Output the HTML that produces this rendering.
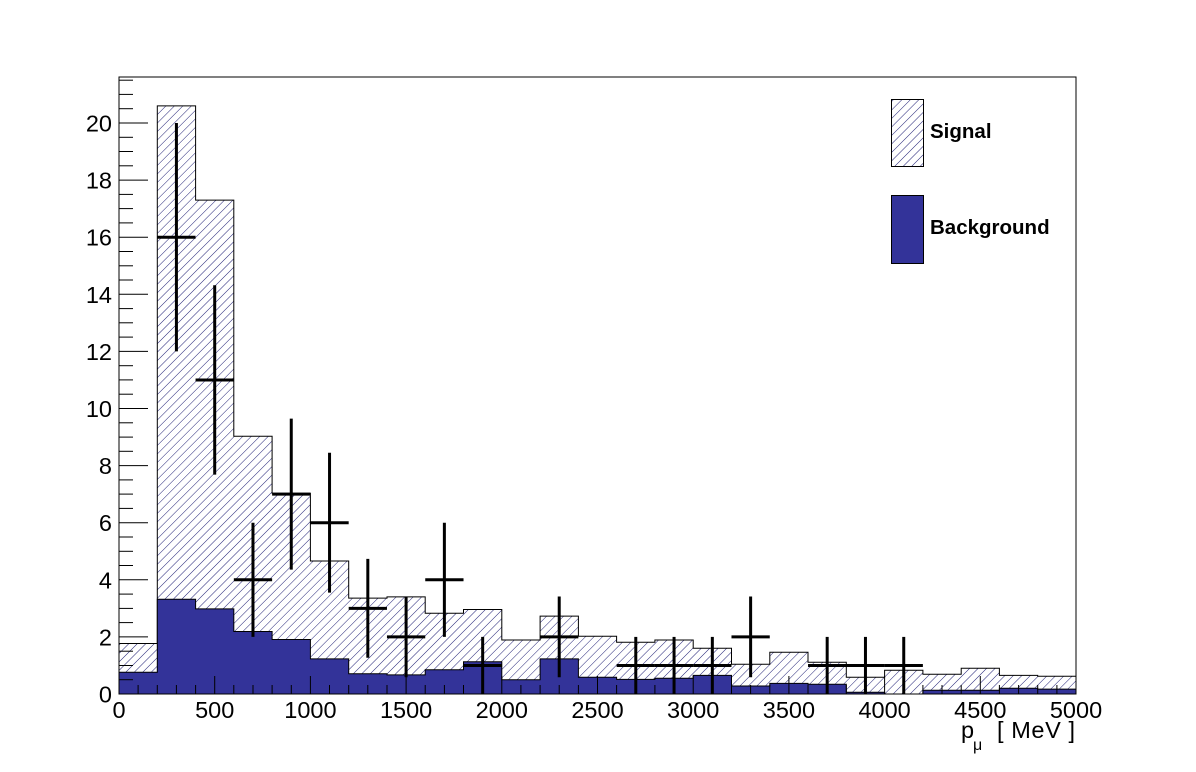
<!DOCTYPE html>
<html><head><meta charset="utf-8">
<style>html,body{margin:0;padding:0;background:#fff;}svg{display:block;}</style>
</head><body>
<svg id="s" width="1196" height="772" xmlns="http://www.w3.org/2000/svg" font-family="Liberation Sans, sans-serif">
<defs>
<pattern id="h" patternUnits="userSpaceOnUse" width="6" height="6" patternTransform="rotate(45)">
<rect width="6" height="6" fill="#fff"/>
<line x1="0" y1="0" x2="0" y2="6" stroke="#222277" stroke-width="1"/>
</pattern>
</defs>
<rect width="1196" height="772" fill="#fff"/>
<g id="g"></g>
</svg>
<script>
var X0=119,X1=1076,Y0=694,PU=28.55,BW=(X1-X0)/25;
function y(v){return Y0-v*PU;}
function x(m){return X0+m*(X1-X0)/5000;}
var sig=[1.77,20.6,17.3,9.03,7.03,4.66,3.36,3.4,2.83,2.96,1.89,2.73,2.02,1.81,1.89,1.6,1.04,1.46,1.11,0.59,0.83,0.69,0.9,0.65,0.62];
var bkg=[0.76,3.32,2.98,2.19,1.91,1.23,0.71,0.67,0.85,1.13,0.5,1.23,0.59,0.51,0.55,0.65,0.28,0.37,0.34,0.06,0,0.13,0.13,0.2,0.17];
var s='';
function step(arr){var d='M'+X0+','+Y0;for(var i=0;i<25;i++){d+=' L'+(X0+i*BW).toFixed(1)+','+y(arr[i]).toFixed(1)+' L'+(X0+(i+1)*BW).toFixed(1)+','+y(arr[i]).toFixed(1);}d+=' L'+X1+','+Y0+' Z';return d;}
s+='<path d="'+step(sig)+'" fill="url(#h)" stroke="#000" stroke-width="1"/>';
s+='<path d="'+step(bkg)+'" fill="#333399" stroke="#000" stroke-width="1"/>';
s+='<rect x="'+X0+'" y="77" width="'+(X1-X0)+'" height="'+(Y0-77)+'" fill="none" stroke="#000" stroke-width="1"/>';
for(var m=0;m<=5000;m+=100){var xx=x(m).toFixed(1);var L=(m%500==0)?18:9;s+='<line x1="'+xx+'" y1="'+Y0+'" x2="'+xx+'" y2="'+(Y0-L)+'" stroke="#000" stroke-width="1"/>';}
for(var m=0;m<=5000;m+=500){s+='<text x="'+x(m)+'" y="718" font-size="23.5" text-anchor="middle">'+m+'</text>';}
for(var v=0;v<=21.5;v+=0.5){var yy=y(v).toFixed(1);var L=(v%2==0)?29:14;s+='<line x1="'+X0+'" y1="'+yy+'" x2="'+(X0+L)+'" y2="'+yy+'" stroke="#000" stroke-width="1"/>';}
for(var v=0;v<=20;v+=2){s+='<text x="112" y="'+(y(v)+8.5)+'" font-size="23.5" text-anchor="end">'+v+'</text>';}
var dat=[[300,16],[500,11],[700,4],[900,7],[1100,6],[1300,3],[1500,2],[1700,4],[1900,1],[2300,2],[2700,1],[2900,1],[3100,1],[3300,2],[3700,1],[3900,1],[4100,1]];
dat.forEach(function(p){var cx=x(p[0]),e=Math.sqrt(p[1]);s+='<line x1="'+(cx-BW/2)+'" y1="'+y(p[1])+'" x2="'+(cx+BW/2)+'" y2="'+y(p[1])+'" stroke="#000" stroke-width="3"/>';s+='<line x1="'+cx+'" y1="'+y(Math.max(0,p[1]-e))+'" x2="'+cx+'" y2="'+y(p[1]+e)+'" stroke="#000" stroke-width="3"/>';});
s+='<rect x="891.5" y="99.5" width="32" height="67" fill="url(#h)" stroke="#000" stroke-width="1"/>';
s+='<rect x="891.5" y="195.5" width="32" height="68" fill="#333399" stroke="#000" stroke-width="1"/>';
s+='<text x="930" y="138" font-size="20.5" font-weight="bold">Signal</text>';
s+='<text x="930" y="234" font-size="20.5" font-weight="bold">Background</text>';
s+='<text x="961" y="738" font-size="23.5">p</text><text x="973" y="750" font-size="16">μ</text><text x="997" y="738" font-size="23.5" textLength="78">[ MeV ]</text>';
document.getElementById('g').innerHTML=s;
</script>
</body></html>
